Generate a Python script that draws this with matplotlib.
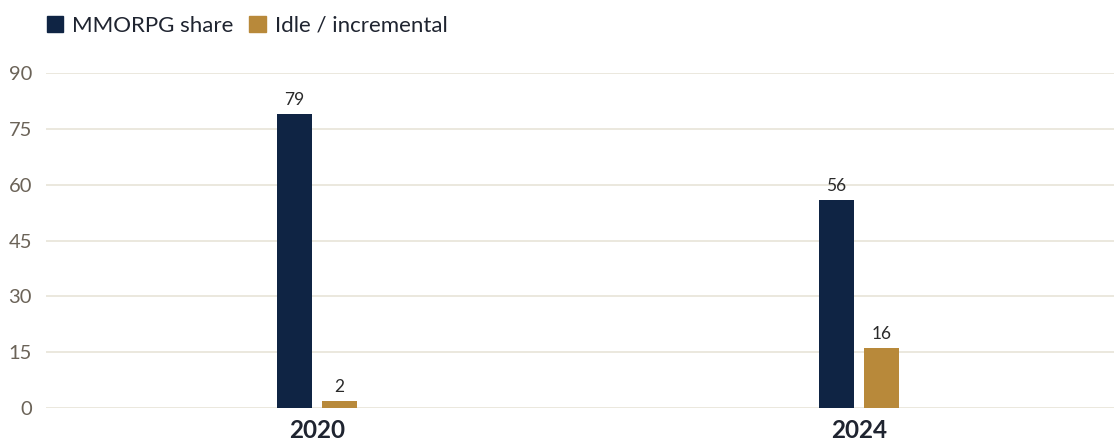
import matplotlib
matplotlib.use("Agg")
import matplotlib.pyplot as plt
import numpy as np

years = ["2020", "2024"]
series_names = ["MMORPG share", "Idle / incremental"]
mmorpg = [79, 56]
idle = [2, 16]
yticks = [0, 15, 30, 45, 60, 75, 90]

navy = "#0f2444"
gold = "#b8893a"

plt.rcParams["font.family"] = ["Lato", "DejaVu Sans"]

fig = plt.figure(figsize=(11.14, 4.46), dpi=100)
ax = fig.add_axes([46 / 1114, 38 / 446, 1084 / 1114, 335 / 446])

x = np.arange(len(years))
w = 0.066
off = 0.0415
b1 = ax.bar(x - off, mmorpg, w, color=navy, zorder=3)
b2 = ax.bar(x + off, idle, w, color=gold, zorder=3)

for bars in (b1, b2):
    for r in bars:
        h = r.get_height()
        ax.text(r.get_x() + r.get_width() / 2, h + 1.6, f"{h:g}",
                ha="center", va="bottom", fontsize=12.5, color="#2a2a2a")

ax.set_xlim(-0.5, 1.5)
ax.set_ylim(0, 90)
ax.set_yticks(yticks)
ax.set_xticks(x)
ax.set_xticklabels(years, fontsize=17.5, fontweight="bold", color="#1f2430")
ax.tick_params(axis="y", length=0, pad=10, labelsize=14.5, labelcolor="#6b6358")
ax.tick_params(axis="x", length=0, pad=8)
ax.grid(axis="y", color="#e8e4d8", linewidth=1.2, zorder=0)
for s in ax.spines.values():
    s.set_visible(False)

handles = [plt.Rectangle((0, 0), 1, 1, color=c) for c in (navy, gold)]
fig.legend(handles, series_names, loc="upper left", bbox_to_anchor=(0.024, 1.01),
           ncol=2, frameon=False, fontsize=16, handlelength=0.75, handleheight=0.75,
           handletextpad=0.4, columnspacing=0.7, labelcolor="#1f2430")

fig.savefig("out.png", dpi=100)
